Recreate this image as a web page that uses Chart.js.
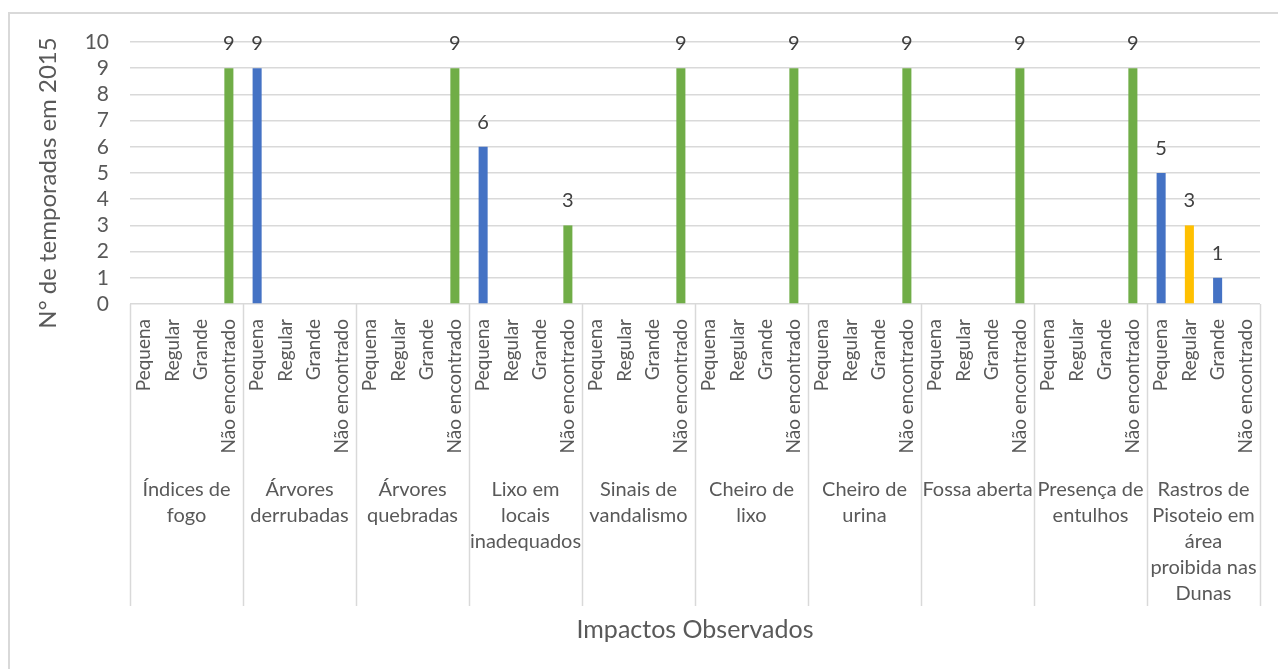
<!DOCTYPE html>
<html lang="pt">
<head>
<meta charset="utf-8">
<title>Impactos Observados</title>
<script src="https://cdn.jsdelivr.net/npm/chart.js@4/dist/chart.umd.min.js"></script>
<style>
  html, body { margin: 0; padding: 0; background: #ffffff; }
  #wrap { position: relative; width: 1278px; height: 669px; }
  canvas { display: block; }
</style>
</head>
<body>
<div id="wrap"><canvas id="chart" width="1278" height="669"></canvas></div>
<script>
// Impact categories (each split into lines as printed under the axis)
const groups = [
  ['Índices de', 'fogo'],
  ['Árvores', 'derrubadas'],
  ['Árvores', 'quebradas'],
  ['Lixo em', 'locais', 'inadequados'],
  ['Sinais de', 'vandalismo'],
  ['Cheiro de', 'lixo'],
  ['Cheiro de', 'urina'],
  ['Fossa aberta'],
  ['Presença de', 'entulhos'],
  ['Rastros de', 'Pisoteio em', 'área', 'proibida nas', 'Dunas']
];

// Intensity levels within each impact
const levels = ['Pequena', 'Regular', 'Grande', 'Não encontrado'];

// Number of seasons per impact, in level order (null = no record)
const indicesFogo      = [null, null, null, 9];
const arvoresDerrub    = [9, null, null, null];
const arvoresQuebr     = [null, null, null, 9];
const lixoLocais       = [6, null, null, 3];
const sinaisVandalismo = [null, null, null, 9];
const cheiroLixo       = [null, null, null, 9];
const cheiroUrina      = [null, null, null, 9];
const fossaAberta      = [null, null, null, 9];
const entulhos         = [null, null, null, 9];
const rastrosDunas     = [5, 3, 1, null];

const yTicks = [0, 1, 2, 3, 4, 5, 6, 7, 8, 9, 10];

const yTitle = 'N° de temporadas em 2015';
const xTitle = 'Impactos Observados';

const seriesByGroup = [indicesFogo, arvoresDerrub, arvoresQuebr, lixoLocais,
  sinaisVandalismo, cheiroLixo, cheiroUrina, fossaAberta, entulhos, rastrosDunas];

// Bar colour per level slot
const levelColors = ['#4472C4', '#FFC000', '#4472C4', '#70AD47'];

const labels = [];
const values = [];
const colors = [];
seriesByGroup.forEach((vals, g) => {
  vals.forEach((v, i) => {
    labels.push(levels[i]);
    values.push(v);
    colors.push(levelColors[i]);
  });
});

const FONT = 'Lato';
const TEXT = '#595959';
const GRID = '#d9d9d9';

// Frame lines, value labels, two-level category axis and axis titles
const decorations = {
  id: 'decorations',
  beforeDraw(chart) {
    const ctx = chart.ctx;
    ctx.save();
    ctx.fillStyle = '#ffffff';
    ctx.fillRect(0, 0, chart.width, chart.height);
    ctx.strokeStyle = GRID;
    ctx.lineWidth = 2;
    ctx.beginPath();
    ctx.moveTo(9, chart.height);
    ctx.lineTo(9, 13);
    ctx.lineTo(chart.width, 13);
    ctx.stroke();
    ctx.restore();
  },
  afterDraw(chart) {
    const ctx = chart.ctx;
    const x = chart.scales.x;
    const y = chart.scales.y;
    const area = chart.chartArea;
    const n = labels.length;
    const per = levels.length;
    const step = (area.right - area.left) / n;
    ctx.save();

    // value labels above bars
    const meta = chart.getDatasetMeta(0);
    ctx.fillStyle = '#404040';
    ctx.font = '20px ' + FONT;
    ctx.textAlign = 'center';
    ctx.textBaseline = 'alphabetic';
    meta.data.forEach((bar, i) => {
      const v = values[i];
      if (v === null || v === undefined) return;
      ctx.fillText(String(v), bar.x, y.getPixelForValue(v) - 18);
    });

    // group separators below the axis
    ctx.strokeStyle = GRID;
    ctx.lineWidth = 1.5;
    const sepBottom = 606;
    for (let g = 0; g <= groups.length; g++) {
      const px = g < groups.length
        ? x.getPixelForValue(g * per) - step / 2
        : x.getPixelForValue(n - 1) + step / 2;
      ctx.beginPath();
      ctx.moveTo(Math.round(px) + 0.5, area.bottom);
      ctx.lineTo(Math.round(px) + 0.5, sepBottom);
      ctx.stroke();
    }

    // level labels, rotated
    ctx.fillStyle = TEXT;
    ctx.font = '19px ' + FONT;
    ctx.textAlign = 'right';
    ctx.textBaseline = 'middle';
    labels.forEach((lab, i) => {
      const px = x.getPixelForValue(i);
      ctx.save();
      ctx.translate(px, area.bottom + 15);
      ctx.rotate(-Math.PI / 2);
      ctx.fillText(lab, 0, 0);
      ctx.restore();
    });

    // group labels
    ctx.font = '20px ' + FONT;
    ctx.textAlign = 'center';
    groups.forEach((lines, g) => {
      const cx = (x.getPixelForValue(g * per) + x.getPixelForValue(g * per + per - 1)) / 2;
      lines.forEach((line, k) => {
        ctx.fillText(line, cx, 490 + k * 25.8);
      });
    });

    // axis titles
    ctx.font = '25px ' + FONT;
    ctx.fillText(xTitle, (area.left + area.right) / 2, 630);
    ctx.font = '24px ' + FONT;
    ctx.save();
    ctx.translate(48, (area.top + area.bottom) / 2 + 10);
    ctx.rotate(-Math.PI / 2);
    ctx.fillText(yTitle, 0, 0);
    ctx.restore();

    ctx.restore();
  }
};

new Chart(document.getElementById('chart'), {
  type: 'bar',
  data: {
    labels: labels,
    datasets: [{
      data: values,
      backgroundColor: colors,
      borderWidth: 0,
      categoryPercentage: 1,
      barPercentage: 0.32
    }]
  },
  options: {
    responsive: false,
    animation: false,
    devicePixelRatio: 1,
    layout: { padding: { left: 0, right: 18, top: 42, bottom: 365 } },
    plugins: {
      legend: { display: false },
      tooltip: { enabled: false }
    },
    scales: {
      x: { display: false },
      y: {
        min: yTicks[0],
        max: yTicks[yTicks.length - 1],
        afterBuildTicks(scale) { scale.ticks = yTicks.map(v => ({ value: v })); },
        afterFit(scale) { scale.width = 130; },
        border: { display: false },
        grid: { color: GRID, lineWidth: 1.5, drawTicks: false },
        ticks: {
          color: TEXT,
          font: { family: FONT, size: 21 },
          padding: 21,
          stepSize: 1,
          autoSkip: false
        }
      }
    }
  },
  plugins: [decorations]
});
</script>
</body>
</html>
